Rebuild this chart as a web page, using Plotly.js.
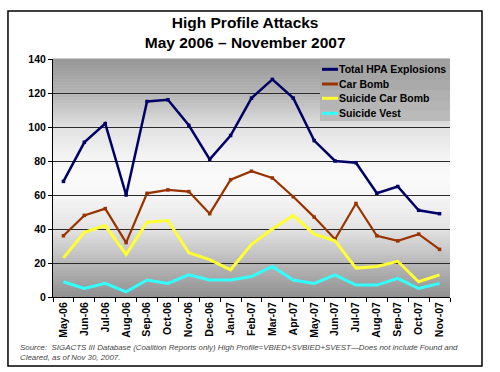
<!DOCTYPE html>
<html>
<head>
<meta charset="utf-8">
<script src="https://cdn.plot.ly/plotly-3.0.1.min.js"></script>
<style>html,body{margin:0;padding:0;background:#fff;}#chart{width:500px;height:372px;}</style>
</head>
<body>
<div id="chart"></div>
<script>
const months = ["May-06","Jun-06","Jul-06","Aug-06","Sep-06","Oct-06","Nov-06","Dec-06","Jan-07","Feb-07","Mar-07","Apr-07","May-07","Jun-07","Jul-07","Aug-07","Sep-07","Oct-07","Nov-07"];
const totalHPA      = [68, 91, 102, 60, 115, 116, 101, 81, 95, 117, 128, 117, 92, 80, 79, 61, 65, 51, 49];
const carBomb       = [36, 48, 52, 32, 61, 63, 62, 49, 69, 74, 70, 59, 47, 34, 55, 36, 33, 37, 28];
const suicideCarBomb= [23, 38, 42, 25, 44, 45, 26, 22, 16, 31, 40, 48, 37, 33, 17, 18, 21, 9, 13];
const suicideVest   = [9, 5, 8, 3, 10, 8, 13, 10, 10, 12, 18, 10, 8, 13, 7, 7, 11, 5, 8];
const seriesNames = ["Total HPA Explosions","Car Bomb","Suicide Car Bomb","Suicide Vest"];
const yTicks = [0,20,40,60,80,100,120,140];

const FONT = "Liberation Sans, Arial, sans-serif";
const colors = ["#000066","#993300","#FFFF33","#33FFFF"];
const widths = [2.5, 2.2, 3, 3];
const msize  = [3.5, 3.5, 0, 0];
const seriesData = [totalHPA, carBomb, suicideCarBomb, suicideVest];

const traces = seriesData.map((d,i)=>({
  type:'scatter', mode: msize[i] ? 'lines+markers' : 'lines',
  x: months, y: d, name: seriesNames[i], showlegend:false,
  line:{color:colors[i], width:widths[i]},
  marker:{color:colors[i], size:msize[i], symbol:'square'},
  hoverinfo:'x+y+name'
}));

// background gradient (style only)
const stops = [[0,144],[0.14,184],[0.29,228],[0.43,246],[0.5,250],[0.57,246],[0.71,226],[0.86,178],[1,152]];
function grey(t){
  for(let k=1;k<stops.length;k++){
    if(t<=stops[k][0]){
      const a=stops[k-1], b=stops[k];
      const f=(t-a[0])/(b[0]-a[0]);
      return Math.round(a[1]+(b[1]-a[1])*f);
    }
  }
  return stops[stops.length-1][1];
}
const shapes=[];
const N=80;
for(let k=0;k<N;k++){
  const g=grey((k+0.5)/N);
  shapes.push({type:'rect',xref:'paper',yref:'paper',x0:0,x1:1,y0:k/N,y1:(k+1)/N+0.002,
    fillcolor:`rgb(${g},${g},${g})`,line:{width:0},layer:'below'});
}
// hide the gridline on the top edge (reference shows none there)
shapes.push({type:'rect',xref:'paper',yref:'paper',x0:0,x1:1,y0:0.994,y1:1.0,
  fillcolor:`rgb(${grey(0.995)},${grey(0.995)},${grey(0.995)})`,line:{width:0},layer:'between'});

// legend box (drawn as a panel in the top-right of the plot area)
const legX0 = 0.6725, legY0 = 0.7395;
const legBands = 6;
for(let k=0;k<legBands;k++){
  const g = Math.round(186 - (k/(legBands-1))*26);
  shapes.push({type:'rect',xref:'paper',yref:'paper',x0:legX0,x1:1,
    y0:legY0+(1-legY0)*k/legBands, y1:legY0+(1-legY0)*(k+1)/legBands+0.001,
    fillcolor:`rgb(${g},${g},${g})`,line:{width:0},layer:'above'});
}
const legRowsY = [0.9567, 0.8950, 0.8349, 0.7718];
const annotations = [];
seriesNames.forEach((nm,i)=>{
  shapes.push({type:'line',xref:'paper',yref:'paper',x0:0.6776,x1:0.7179,y0:legRowsY[i],y1:legRowsY[i],
    line:{color:colors[i],width:3},layer:'above'});
  annotations.push({xref:'paper',yref:'paper',x:0.7154,y:legRowsY[i],xanchor:'left',yanchor:'middle',
    showarrow:false,text:nm,font:{family:FONT,size:10.5,weight:'bold',color:'#000'}});
});
// outer frame
shapes.push({type:'rect',xref:'paper',yref:'paper',x0:-0.1134,x1:1.0806,y0:-0.2899,y1:1.2017,
  line:{color:'#000',width:1.5},fillcolor:'rgba(0,0,0,0)',layer:'above'});

annotations.push({xref:'paper',yref:'paper',x:-0.088,y:-0.185,xanchor:'left',yanchor:'top',align:'left',
  showarrow:false,
  text:'<i>Source:  SIGACTS III Database (Coalition Reports only) High Profile=VBIED+SVBIED+SVEST—Does not include Found and<br>Cleared, as of Nov 30, 2007.</i>',
  font:{family:FONT,size:7.9,color:'#444'}});

const layout = {
  width:500, height:372,
  margin:{l:53,r:50,t:59,b:75,pad:0},
  paper_bgcolor:'#ffffff', plot_bgcolor:'rgba(0,0,0,0)',
  font:{family:FONT, color:'#000'},
  title:{text:'High Profile Attacks<br>May 2006 – November 2007',
    font:{family:FONT,size:15.5,weight:'bold',color:'#000'},
    x:0.484, xref:'paper', xanchor:'center', y:0.926, yref:'container', yanchor:'middle'},
  xaxis:{type:'category', showline:true, linecolor:'#000', linewidth:1,
    ticks:'outside', tickson:'boundaries', ticklen:4, tickcolor:'#000',
    tickangle:-90, tickfont:{family:FONT,size:10.5,weight:'bold',color:'#000'},
    showgrid:false, zeroline:false, range:[-0.5,18.5], fixedrange:true},
  yaxis:{range:[0,140], tickvals:yTicks, showline:true, linecolor:'#000', linewidth:1,
    ticks:'outside', ticklen:4, tickcolor:'#000',
    tickfont:{family:FONT,size:10.5,weight:'bold',color:'#000'},
    showgrid:true, gridcolor:'#2a2a2a', gridwidth:1, zeroline:false, fixedrange:true},
  showlegend:false,
  shapes:shapes,
  annotations:annotations
};

Plotly.newPlot('chart', traces, layout, {displayModeBar:false, staticPlot:true});
</script>
</body>
</html>
